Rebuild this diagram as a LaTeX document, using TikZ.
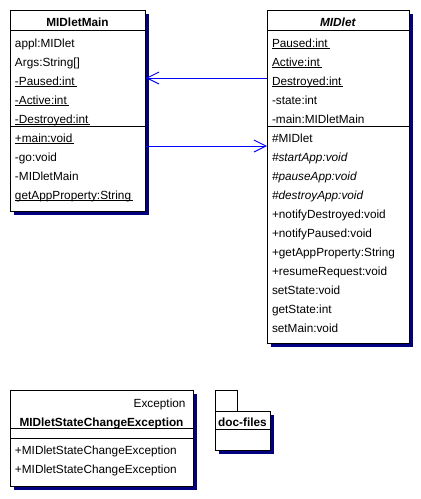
\documentclass[tikz,border=0pt]{standalone}
\usepackage{fontspec}
\setmainfont{Liberation Sans}
\usetikzlibrary{positioning}
\usetikzlibrary{shadows}
\usetikzlibrary{arrows.meta}
\definecolor{shade}{RGB}{0,0,128}
\newcommand{\umlfont}{\fontsize{11.8pt}{14pt}\selectfont}
\newsavebox{\ulnbox}
\newcommand{\uln}[1]{\sbox{\ulnbox}{#1\,}\rlap{\rule[-2.2pt]{\wd\ulnbox}{0.9pt}}\usebox{\ulnbox}}
\tikzset{
	node distance=7pt,
	every node/.append style={font=\umlfont, inner sep=0pt},
	every path/.append style={line width=1pt},
	box/.style={draw,
		    fill=white,
		    anchor=north west,
		    drop shadow={shadow xshift=3pt, shadow yshift=-3pt, fill=shade, opacity=1}},
	title/.style={anchor=base, font=\umlfont\bfseries},
	row/.style={text width=170pt, align=left, text height=9pt, text depth=3pt, outer sep=0pt},
	first/.style={row, anchor=base west},
	rel/.style={draw=blue, -{Straight Barb[length=12pt, width=12pt]}}
}

\begin{document}
\begin{tikzpicture}[x=1pt, y=-1pt]

	\useasboundingbox (0,0) rectangle (421,499);

	% MIDletMain
	\node [box, minimum width=135pt, minimum height=201pt] (main) at (10,10) {};
	\draw (10,30) -- (145,30);
	\draw (10,126) -- (145,126);
	\node [title] (maintitle) at (77.5,26) {MIDletMain};
	\node [first] (appl) at (15,47) {appl:MIDlet};
	\node [row, below=of appl] (args) {Args:String[]};
	\node [row, below=of args] (mpaused) {\uln{-Paused:int}};
	\node [row, below=of mpaused] (mactive) {\uln{-Active:int}};
	\node [row, below=of mactive] (mdestroyed) {\uln{-Destroyed:int}};
	\node [row, below=of mdestroyed] (mmain) {\uln{+main:void}};
	\node [row, below=of mmain] (go) {-go:void};
	\node [row, below=of go] (mcons) {-MIDletMain};
	\node [row, below=of mcons] (mprop) {\uln{getAppProperty:String}};

	% MIDlet
	\node [box, minimum width=142pt, minimum height=333pt] (midlet) at (267,10) {};
	\draw (267,30) -- (409,30);
	\draw (267,126) -- (409,126);
	\node [title] (midlettitle) at (338,26) {\textit{MIDlet}};
	\node [first] (paused) at (272,47) {\uln{Paused:int}};
	\node [row, below=of paused] (active) {\uln{Active:int}};
	\node [row, below=of active] (destroyed) {\uln{Destroyed:int}};
	\node [row, below=of destroyed] (state) {-state:int};
	\node [row, below=of state] (mainref) {-main:MIDletMain};
	\node [row, below=of mainref] (cons) {\#MIDlet};
	\node [row, below=of cons] (start) {\textit{\#startApp:void}};
	\node [row, below=of start] (pause) {\textit{\#pauseApp:void}};
	\node [row, below=of pause] (destroy) {\textit{\#destroyApp:void}};
	\node [row, below=of destroy] (ndestroyed) {+notifyDestroyed:void};
	\node [row, below=of ndestroyed] (npaused) {+notifyPaused:void};
	\node [row, below=of npaused] (prop) {+getAppProperty:String};
	\node [row, below=of prop] (resume) {+resumeRequest:void};
	\node [row, below=of resume] (setstate) {setState:void};
	\node [row, below=of setstate] (getstate) {getState:int};
	\node [row, below=of getstate] (setmain) {setMain:void};

	% MIDletStateChangeException
	\node [box, minimum width=183pt, minimum height=96pt] (exc) at (10,390) {};
	\draw (10,428) -- (193,428);
	\draw (10,438) -- (193,438);
	\node [anchor=base east] (super) at (186,407) {Exception};
	\node [title] (exctitle) at (101.5,426) {MIDletStateChangeException};
	\node [first] (exc1) at (15,454) {+MIDletStateChangeException};
	\node [row, below=of exc1] (exc2) {+MIDletStateChangeException};

	% doc-files
	\node [draw, fill=white, anchor=north west, minimum width=22pt, minimum height=21pt] (tab) at (215,390) {};
	\node [box, minimum width=55pt, minimum height=39pt] (pkg) at (215,411) {};
	\draw (215,429) -- (270,429);
	\node [title] (pkgname) at (242.5,426) {doc-files};

	\draw [rel] (midlet.west |- 0,78) -- (main.east |- 0,78);
	\draw [rel] (main.east |- 0,146) -- (midlet.west |- 0,146);

\end{tikzpicture}
\end{document}
